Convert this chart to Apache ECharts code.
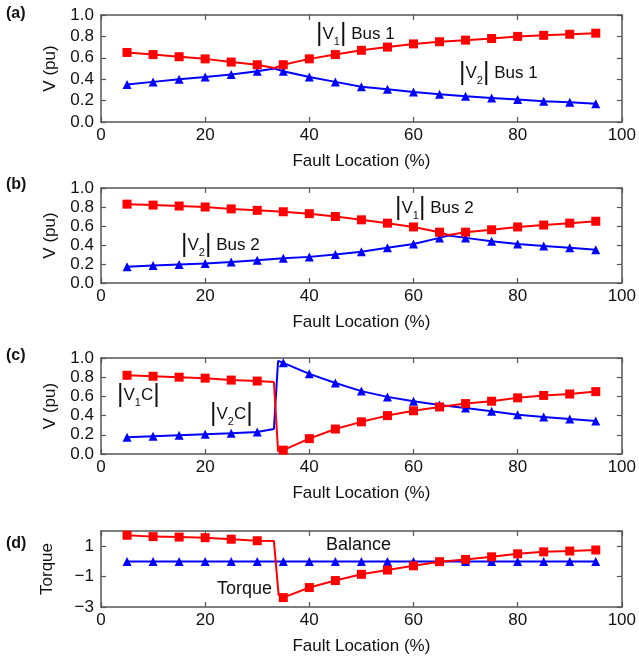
<!DOCTYPE html>
<html>
<head>
<meta charset="utf-8">
<script src="https://cdn.jsdelivr.net/npm/echarts@6/dist/echarts.min.js"></script>
<style>
html,body{margin:0;padding:0;background:#fff;}
#chart{width:639px;height:656px;}
</style>
</head>
<body>
<div id="chart"></div>
<script>
// ---- Data ----
const faultLoc = [5,10,15,20,25,30,35,40,45,50,55,60,65,70,75,80,85,90,95];
const xTicks = [0,20,40,60,80,100];

// (a) Bus 1
const v1Bus1 = [0.65,0.63,0.61,0.59,0.56,0.535,0.535,0.59,0.63,0.67,0.70,0.73,0.75,0.765,0.78,0.80,0.81,0.82,0.83];
const v2Bus1 = [0.35,0.375,0.40,0.42,0.445,0.475,0.475,0.42,0.375,0.33,0.305,0.28,0.26,0.24,0.225,0.21,0.195,0.185,0.17];
const extraXa = [33.3];
const extraV1a = [0.505];
const extraV2a = [0.50];

// (b) Bus 2
const v1Bus2 = [0.83,0.82,0.81,0.80,0.78,0.765,0.75,0.73,0.70,0.665,0.63,0.59,0.535,0.535,0.56,0.59,0.61,0.63,0.65];
const v2Bus2 = [0.17,0.185,0.195,0.205,0.22,0.24,0.26,0.275,0.30,0.33,0.37,0.41,0.475,0.475,0.44,0.41,0.39,0.37,0.35];
const extraXb = [66.7];
const extraV1b = [0.505];
const extraV2b = [0.50];

// (c) V1C / V2C
const v1C = [0.82,0.81,0.80,0.79,0.77,0.76,0.04,0.16,0.26,0.335,0.40,0.45,0.49,0.525,0.55,0.585,0.61,0.625,0.65];
const v2C = [0.175,0.185,0.195,0.205,0.215,0.23,0.95,0.835,0.74,0.655,0.595,0.55,0.51,0.48,0.445,0.41,0.385,0.365,0.345];
const extraXc = [33.2, 34.0];
const extraV1c = [0.75, 0.03];
const extraV2c = [0.26, 0.97];

// (d) Torque / Balance
const torque = [1.72,1.63,1.60,1.56,1.46,1.36,-2.38,-1.72,-1.26,-0.85,-0.57,-0.29,-0.02,0.13,0.30,0.50,0.63,0.68,0.75];
const balance = [0,0,0,0,0,0,0,0,0,0,0,0,0,0,0,0,0,0,0];
const extraXd = [33.2, 34.1];
const extraTorque = [1.35, -2.2];

// ---- helpers ----
function buildData(xs, ys, exX, exY) {
  const pts = xs.map((x, i) => ({ value: [x, ys[i]] }));
  if (exX) exX.forEach((x, i) => pts.push({ value: [x, exY[i]], symbol: 'none' }));
  pts.sort((a, b) => a.value[0] - b.value[0]);
  return pts;
}

const RED = '#ff0000', BLUE = '#0000ff', AX = '#555555';
const FONT = 'Liberation Sans, Arial, Helvetica, sans-serif';

const grids = [
  { left: 101, right: 13, top: 15, height: 107 },
  { left: 101, right: 13, top: 188, height: 95 },
  { left: 101, right: 13, top: 358, height: 96 },
  { left: 101, right: 13, top: 531, height: 76 }
];

const lineCfg = { show: true, onZero: false, lineStyle: { color: AX, width: 1.5 } };
const tickCfg = { show: true, inside: true, length: 5, lineStyle: { color: AX, width: 1.2 } };

const xAxes = [], yAxes = [];
grids.forEach((g, i) => {
  xAxes.push({
    type: 'value', gridIndex: i, min: xTicks[0], max: xTicks[xTicks.length - 1], interval: 20,
    name: 'Fault Location (%)', nameLocation: 'middle', nameGap: 31,
    nameTextStyle: { fontFamily: FONT, fontSize: 17, color: '#111' },
    axisLine: lineCfg, axisTick: tickCfg,
    axisLabel: { fontFamily: FONT, fontSize: 17, color: '#111', margin: 5 },
    splitLine: { show: false }
  });
  xAxes.push({
    type: 'value', gridIndex: i, position: 'top', min: 0, max: 100, interval: 20,
    axisLine: lineCfg, axisTick: tickCfg,
    axisLabel: { show: false }, splitLine: { show: false }
  });
});

function vAxis(i) {
  return {
    type: 'value', gridIndex: i, min: 0, max: 1, interval: 0.2,
    name: 'V (pu)', nameLocation: 'middle', nameGap: 42,
    nameTextStyle: { fontFamily: FONT, fontSize: 17, color: '#111' },
    axisLine: lineCfg, axisTick: tickCfg,
    axisLabel: { fontFamily: FONT, fontSize: 17, color: '#111', margin: 7, formatter: v => v.toFixed(1) },
    splitLine: { show: false }
  };
}
function rightAxis(i, min, max, interval) {
  return {
    type: 'value', gridIndex: i, position: 'right', min: min, max: max, interval: interval,
    axisLine: lineCfg, axisTick: tickCfg,
    axisLabel: { show: false }, splitLine: { show: false }
  };
}
yAxes.push(vAxis(0), rightAxis(0, 0, 1, 0.2));
yAxes.push(vAxis(1), rightAxis(1, 0, 1, 0.2));
yAxes.push(vAxis(2), rightAxis(2, 0, 1, 0.2));
yAxes.push({
  type: 'value', gridIndex: 3, min: -3, max: 2, interval: 2,
  name: 'Torque', nameLocation: 'middle', nameGap: 45,
  nameTextStyle: { fontFamily: FONT, fontSize: 17, color: '#111' },
  axisLine: lineCfg, axisTick: tickCfg,
  axisLabel: { fontFamily: FONT, fontSize: 17, color: '#111', margin: 7, showMaxLabel: false,
    formatter: v => (v === 2 ? '' : String(v).replace('-', '\u2212')) },
  splitLine: { show: false }
}, rightAxis(3, -3, 2, 2));

function lineSeries(i, data, color, symbol) {
  return {
    type: 'line', xAxisIndex: i * 2, yAxisIndex: i * 2, data: data,
    symbol: symbol, symbolSize: 9,
    lineStyle: { color: color, width: 2 },
    itemStyle: { color: color },
    animation: false, z: symbol === 'rect' ? 3 : 2
  };
}

const series = [
  lineSeries(0, buildData(faultLoc, v1Bus1, extraXa, extraV1a), RED, 'rect'),
  lineSeries(0, buildData(faultLoc, v2Bus1, extraXa, extraV2a), BLUE, 'triangle'),
  lineSeries(1, buildData(faultLoc, v1Bus2, extraXb, extraV1b), RED, 'rect'),
  lineSeries(1, buildData(faultLoc, v2Bus2, extraXb, extraV2b), BLUE, 'triangle'),
  lineSeries(2, buildData(faultLoc, v1C, extraXc, extraV1c), RED, 'rect'),
  lineSeries(2, buildData(faultLoc, v2C, extraXc, extraV2c), BLUE, 'triangle'),
  lineSeries(3, buildData(faultLoc, torque, extraXd, extraTorque), RED, 'rect'),
  lineSeries(3, buildData(faultLoc, balance), BLUE, 'triangle')
];

const rich = {
  b: { fontFamily: FONT, fontSize: 25, color: '#111' },
  t: { fontFamily: FONT, fontSize: 17, color: '#111' },
  s: { fontFamily: FONT, fontSize: 11, color: '#111', verticalAlign: 'bottom', padding: [9, 0, 0, 0] }
};
function ann(x, y, text) {
  return { type: 'text', left: x, top: y, z: 10,
    style: { text: text, rich: rich, fontFamily: FONT, fontSize: 17, fill: '#111' } };
}
function plain(x, y, text, bold) {
  return { type: 'text', left: x, top: y, z: 10,
    style: { text: text, fontFamily: FONT, fontSize: bold ? 16 : 18, fontWeight: bold ? 'bold' : 'normal', fill: '#111' } };
}

const graphic = [
  plain(6, 6, '(a)', true), plain(6, 177, '(b)', true), plain(6, 348, '(c)', true), plain(6, 536, '(d)', true),
  ann(316, 22, '{b||}{t|V}{s|1}{b||}{t| Bus 1}'),
  ann(459, 61, '{b||}{t|V}{s|2}{b||}{t| Bus 1}'),
  ann(395, 196, '{b||}{t|V}{s|1}{b||}{t| Bus 2}'),
  ann(181, 233, '{b||}{t|V}{s|2}{b||}{t| Bus 2}'),
  ann(117, 383, '{b||}{t|V}{s|1}{t|C}{b||}'),
  ann(210, 402, '{b||}{t|V}{s|2}{t|C}{b||}'),
  plain(326, 536, 'Balance'),
  plain(217, 580, 'Torque')
];

const chart = echarts.init(document.getElementById('chart'), null, { renderer: 'canvas' });
chart.setOption({
  backgroundColor: '#fff',
  animation: false,
  grid: grids,
  xAxis: xAxes,
  yAxis: yAxes,
  series: series,
  graphic: graphic
});
</script>
</body>
</html>
